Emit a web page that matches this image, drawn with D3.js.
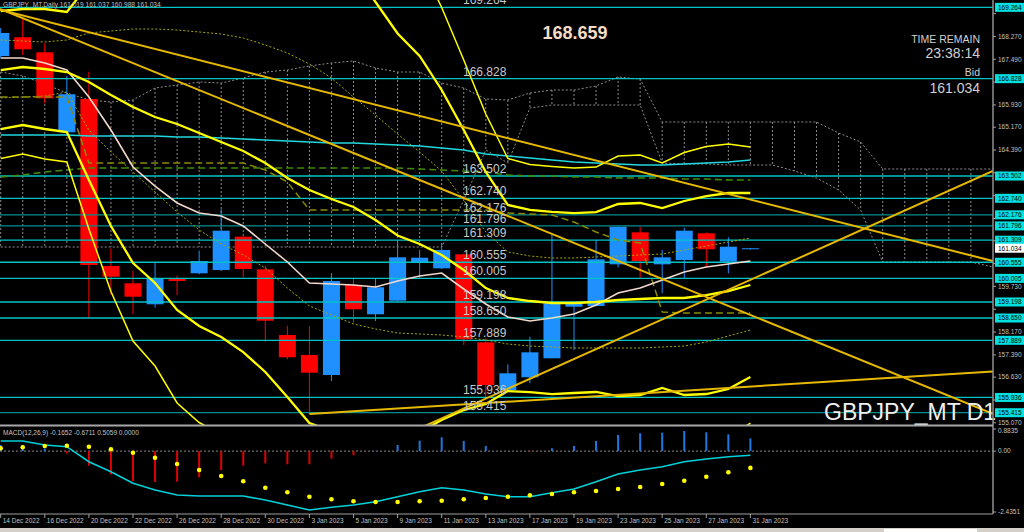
<!DOCTYPE html>
<html><head><meta charset="utf-8">
<script src="https://cdn.jsdelivr.net/npm/d3@7"></script>
<style>html,body{margin:0;padding:0;background:#000;overflow:hidden}svg{display:block;font-family:"Liberation Sans",Arial,sans-serif}</style>
</head><body>
<svg id="c" width="1024" height="532"></svg>
<script>
// ---------- DATA ----------
const dates = ["14 Dec 2022","15 Dec 2022","16 Dec 2022","19 Dec 2022","20 Dec 2022","21 Dec 2022","22 Dec 2022","23 Dec 2022","26 Dec 2022","27 Dec 2022","28 Dec 2022","29 Dec 2022","30 Dec 2022","2 Jan 2023","3 Jan 2023","4 Jan 2023","5 Jan 2023","6 Jan 2023","9 Jan 2023","10 Jan 2023","11 Jan 2023","12 Jan 2023","13 Jan 2023","16 Jan 2023","17 Jan 2023","18 Jan 2023","19 Jan 2023","20 Jan 2023","23 Jan 2023","24 Jan 2023","25 Jan 2023","26 Jan 2023","27 Jan 2023","30 Jan 2023","31 Jan 2023"];
const open  = [167.602,168.241,167.728,164.995,166.133,160.427,159.836,159.119,159.983,160.178,160.290,161.428,160.314,158.070,157.387,156.703,159.778,158.777,159.242,160.554,160.348,160.827,157.820,156.191,156.625,157.274,159.037,159.060,160.485,161.578,160.485,160.632,161.544,160.574,161.019];
const high  = [168.558,168.890,168.036,166.918,167.065,161.032,160.266,160.554,160.096,160.950,162.364,161.486,160.427,158.388,158.370,160.178,160.028,160.007,161.257,160.974,161.202,160.854,157.957,157.069,158.012,161.486,159.163,161.316,161.794,161.770,160.974,161.736,161.572,161.408,161.037];
const low   = [167.533,167.636,165.986,164.971,158.650,159.436,158.787,159.002,159.436,160.144,160.256,160.041,157.841,157.239,155.371,156.498,158.490,158.548,159.214,160.007,160.325,157.728,155.907,156.122,156.420,157.274,157.557,159.043,160.383,160.007,159.494,160.007,160.383,160.178,160.988];
const close = [168.388,167.831,166.157,166.293,160.461,160.062,159.378,160.007,159.915,160.598,161.633,160.325,158.558,157.308,156.782,159.915,158.948,159.700,160.724,160.711,160.974,157.923,156.361,156.761,157.479,159.153,159.153,160.656,161.770,160.598,160.724,161.633,160.998,161.087,161.034];

const maFast = [167.533,167.533,167.363,167.123,166.201,165.074,163.809,163.160,162.580,162.238,162.135,161.794,161.179,160.564,159.846,159.812,159.778,159.710,159.915,160.085,160.188,159.641,159.129,158.685,158.548,158.651,158.787,159.095,159.505,159.676,159.949,160.222,160.393,160.495,160.598];
const maSlow = [164.903,164.903,164.903,164.903,164.869,164.869,164.869,164.869,164.835,164.835,164.800,164.766,164.732,164.698,164.664,164.629,164.629,164.595,164.561,164.527,164.459,164.390,164.254,164.185,164.117,164.049,163.981,163.946,163.912,163.878,163.878,163.912,163.946,163.981,164.049];

const bbMid = [167.123,167.226,167.158,167.055,166.713,166.269,165.859,165.518,165.279,164.971,164.664,164.356,163.946,163.434,163.024,162.716,162.443,161.999,161.469,161.179,160.803,160.290,159.675,159.334,159.231,159.163,159.163,159.197,159.265,159.300,159.334,159.334,159.436,159.573,159.778];
const bbDev = [1.008,0.991,1.025,1.025,1.674,2.238,2.665,2.836,3.177,3.297,3.331,3.434,3.570,3.741,3.980,3.963,3.997,3.724,3.451,3.212,2.819,2.392,1.982,1.589,1.555,1.555,1.537,1.537,1.640,1.640,1.537,1.657,1.691,1.674,1.572];

const dotUpper = [168.148,168.114,168.080,168.148,168.388,168.456,168.524,168.524,168.490,168.422,168.353,168.217,167.978,167.704,167.328,166.850,166.201,165.586,164.937,164.322,163.673,162.682,161.589,160.906,160.769,160.700,160.700,160.735,160.769,160.803,160.837,160.974,161.110,161.247,161.384];
const dotLower = [166.167,166.201,166.235,166.372,165.074,164.322,163.639,162.955,162.272,161.657,161.179,160.803,160.359,159.676,159.061,158.753,158.446,158.275,158.138,158.104,158.070,158.001,157.899,157.762,157.694,157.660,157.626,157.626,157.626,157.626,157.660,157.694,157.831,158.036,158.241];

const kijun = [166.201,166.201,166.201,166.201,163.946,163.946,163.946,163.946,163.946,163.946,163.946,163.946,163.706,163.297,162.340,162.340,162.340,162.340,162.340,162.340,162.340,162.340,162.340,162.238,162.204,162.170,161.930,161.589,161.316,161.213,158.856,158.821,158.821,158.821,158.821];
const greenLine = [163.468,163.536,163.639,163.707,163.775,163.775,163.775,163.775,163.775,163.775,163.775,163.775,163.775,163.775,163.775,163.775,163.775,163.775,163.775,163.741,163.707,163.673,163.639,163.536,163.502,163.502,163.468,163.468,163.434,163.434,163.434,163.400,163.400,163.365,163.365];

const cloudUpper = [167.055,166.918,166.645,166.338,166.099,166.030,166.099,166.508,166.611,166.713,166.679,166.850,167.055,167.123,167.260,167.363,167.431,167.192,167.055,167.055,166.679,166.508,166.133,166.099,166.338,166.440,166.440,166.577,166.884,166.816,165.347,165.347,165.347,165.347,165.347,165.347,165.347,165.347,164.971,164.664,163.741,163.741,163.741,163.741,163.741,163.741];
const cloudLower = [161.076,161.076,161.076,161.076,161.076,161.076,161.076,161.076,161.076,161.076,161.076,161.076,161.076,161.076,161.076,161.076,161.076,161.076,161.076,161.076,161.076,162.682,164.390,163.946,165.825,165.928,165.928,165.928,165.928,165.928,163.946,163.912,163.912,163.878,163.878,163.878,163.673,163.434,163.024,162.340,160.564,160.564,160.564,160.564,160.564,160.393];

const levels = [169.264,166.828,163.502,162.740,162.176,161.796,161.309,160.555,160.005,159.198,158.650,157.889,155.936,155.415];
const darkLevels = [162.176,161.796,155.415];
const bidPrice = 161.034;
const priceTicks = [169.050,168.270,167.490,166.710,165.930,165.170,164.390,163.610,162.830,162.050,161.290,160.510,159.730,158.950,158.170,157.390,156.630,155.850,155.070];

// trend lines: two anchor points [bar index, price]
const trend1 = [[0,169.173],[45,160.598]];
const trend2 = [[1,168.897],[35,158.449]];
const trend3 = [[20,155.221],[45,163.673]];
const trend4 = [[14,155.371],[45,156.823]];

const macdMain = [0.404,0.404,0.244,0.176,-0.424,-0.824,-1.288,-1.556,-1.756,-1.796,-1.796,-1.796,-1.956,-2.156,-2.356,-2.248,-2.156,-2.024,-1.824,-1.624,-1.464,-1.556,-1.716,-1.824,-1.824,-1.664,-1.516,-1.224,-0.916,-0.756,-0.624,-0.424,-0.316,-0.224,-0.1652];
const macdSignal = [0.112,0.152,0.204,0.216,0.176,0.072,-0.064,-0.264,-0.516,-0.756,-0.996,-1.208,-1.464,-1.648,-1.824,-1.928,-2.008,-2.036,-2.036,-2.008,-1.984,-1.928,-1.876,-1.824,-1.768,-1.716,-1.648,-1.596,-1.516,-1.436,-1.316,-1.184,-1.024,-0.848,-0.6711];
const macdHist = [0.24,0.25,0.10,-0.10,-0.584,-0.928,-1.196,-1.236,-1.224,-1.048,-0.756,-0.584,-0.488,-0.528,-0.528,-0.304,-0.168,0.012,0.244,0.416,0.552,0.404,0.204,0.0,-0.03,0.112,0.204,0.404,0.644,0.712,0.736,0.804,0.752,0.672,0.5059];
const macdTicks = [0.8835,0.00,-2.4351];
const macdTickLabels = ["0.8835","0.00","-2.4351"];

// ---------- DRAW ----------
const svg = d3.select("#c");
svg.append("rect").attr("width",1024).attr("height",532).attr("fill","#000");
const AX = 993;
const xs = d3.scaleLinear().domain([0,45]).range([0.7,992.95]);
const ym = d3.scaleLinear().domain([169.515,154.961]).range([0,426]);
const yd = d3.scaleLinear().domain([0.8835,-2.4351]).range([429,512]);

const defs = svg.append("defs");
defs.append("clipPath").attr("id","cm").append("rect").attr("x",0).attr("y",0).attr("width",AX).attr("height",425);
defs.append("clipPath").attr("id","cd").append("rect").attr("x",0).attr("y",427).attr("width",AX).attr("height",86);

const main = svg.append("g").attr("clip-path","url(#cm)");
const idx = d3.range(dates.length);

// Ichimoku cloud hatch
const cidx = d3.range(cloudUpper.length);
main.append("g").selectAll("line").data(cidx.slice(0,45)).join("line")
  .attr("x1",k=>xs(k)).attr("x2",k=>xs(k))
  .attr("y1",k=>ym(cloudUpper[k])).attr("y2",k=>ym(cloudLower[k]))
  .attr("stroke","#8c8c8c").attr("stroke-width",1).attr("stroke-dasharray","2,2");
const cl = d3.line().x((d,i)=>xs(i)).y(d=>ym(d));
[cloudUpper,cloudLower].forEach(arr=>{
  main.append("path").attr("d",cl(arr)).attr("fill","none").attr("stroke","#8c8c8c").attr("stroke-width",1).attr("stroke-dasharray","2,2");
});

// candles
const cg = main.append("g");
idx.forEach(i=>{
  const bull = close[i] >= open[i];
  const col = bull ? "#1e90ff" : "#ff0000";
  cg.append("line").attr("x1",xs(i)).attr("x2",xs(i)).attr("y1",ym(high[i])).attr("y2",ym(low[i])).attr("stroke",col).attr("stroke-width",1);
  const yt = ym(Math.max(open[i],close[i])), yb = ym(Math.min(open[i],close[i]));
  cg.append("rect").attr("x",xs(i)-8.5).attr("width",17).attr("y",yt).attr("height",Math.max(1,yb-yt)).attr("fill",col);
});

// horizontal levels
main.append("g").selectAll("line").data(levels).join("line")
  .attr("x1",0).attr("x2",AX).attr("y1",d=>ym(d)).attr("y2",d=>ym(d))
  .attr("stroke",d=>darkLevels.includes(d)?"#008c8c":"#00c4c4").attr("stroke-width",1.3);

const line = d3.line().x((d,i)=>xs(i)).y(d=>ym(d));
// dotted olive bands
[dotUpper,dotLower].forEach(arr=>{
  main.append("path").attr("d",line(arr)).attr("fill","none").attr("stroke","#a8a800").attr("stroke-width",1).attr("stroke-dasharray","2,2");
});
// dashed lines
main.append("path").attr("d",line(greenLine)).attr("fill","none").attr("stroke","#3f8a0a").attr("stroke-width",1.6).attr("stroke-dasharray","7,4");
main.append("path").attr("d",line(kijun)).attr("fill","none").attr("stroke","#8a8a00").attr("stroke-width",1.5).attr("stroke-dasharray","7,4");
// moving averages
main.append("path").attr("d",line(maSlow)).attr("fill","none").attr("stroke","#20d8e0").attr("stroke-width",1.6);
main.append("path").attr("d",line(maFast)).attr("fill","none").attr("stroke","#f2d8cc").attr("stroke-width",1.6);
// bollinger style bands
const band = n => bbMid.map((m,i)=>m + n*bbDev[i]);
[[3,1.5],[-3,1.5],[2,2.3],[-2,2.3],[0,2.3]].forEach(([n,w])=>{
  main.append("path").attr("d",line(band(n))).attr("fill","none").attr("stroke","#ffff00").attr("stroke-width",w);
});
// trend lines
const tl = (a,b,k0,k1)=>{const s=(b[1]-a[1])/(b[0]-a[0]);return [[k0,a[1]+s*(k0-a[0])],[k1,a[1]+s*(k1-a[0])]];};
const tline = d3.line().x(d=>xs(d[0])).y(d=>ym(d[1]));
const k0 = xs.invert(0);
[tl(trend1[0],trend1[1],k0,45),tl(trend2[0],trend2[1],k0,45),tl(trend3[0],trend3[1],17,45),tl(trend4[0],trend4[1],14,45)].forEach(p=>{
  main.append("path").attr("d",tline(p)).attr("fill","none").attr("stroke","#e6b800").attr("stroke-width",2);
});

// level labels
main.append("g").selectAll("text").data(levels).join("text")
  .attr("x",463).attr("y",d=>ym(d)-3).attr("fill","#c8c8c8").attr("font-size",12).text(d=>d.toFixed(3));

// header & texts
svg.append("text").attr("x",3).attr("y",7).attr("fill","#c0c0c0").attr("font-size",6.6)
  .text("GBPJPY_MT,Daily  " + [open[34],high[34],low[34],close[34]].map(v=>v.toFixed(3)).join(" "));
svg.append("text").attr("x",575).attr("y",39).attr("text-anchor","middle").attr("fill","#f6dcc4").attr("font-size",18).attr("font-weight","bold").text("168.659");
const rt = [["TIME REMAIN",43,10.5],["23:38:14",58,14],["Bid",76,10.5],[bidPrice.toFixed(3),93,14]];
rt.forEach(([t,y,f])=>svg.append("text").attr("x",980).attr("y",y).attr("text-anchor","end").attr("fill","#d0d0d0").attr("font-size",f).text(t));
svg.append("text").attr("x",824).attr("y",420).attr("fill","#f0f0f0").attr("font-size",23).text("GBPJPY_MT D1");

// right axis
svg.append("line").attr("x1",AX).attr("x2",AX).attr("y1",0).attr("y2",514).attr("stroke","#909090").attr("stroke-width",1.5);
const ax = svg.append("g");
const boxed = levels.concat([bidPrice]);
priceTicks.forEach(p=>{
  ax.append("line").attr("x1",AX).attr("x2",AX+3).attr("y1",ym(p)).attr("y2",ym(p)).attr("stroke","#a0a0a0");
  const hidden = boxed.some(b=>Math.abs(ym(b)-ym(p))<7.5);
  if(!hidden) ax.append("text").attr("x",998).attr("y",ym(p)).attr("dy","0.35em").attr("fill","#c0c0c0").attr("font-size",6.5).text(p.toFixed(3));
});
levels.forEach(p=>{
  ax.append("rect").attr("x",995).attr("y",ym(p)-4.5).attr("width",29).attr("height",9).attr("fill","#00e0e0");
  ax.append("text").attr("x",998).attr("y",ym(p)).attr("dy","0.35em").attr("fill","#000").attr("font-size",6.5).text(p.toFixed(3));
});
ax.append("rect").attr("x",995).attr("y",ym(bidPrice)-4.5).attr("width",29).attr("height",9).attr("fill","#ffffff");
ax.append("text").attr("x",998).attr("y",ym(bidPrice)).attr("dy","0.35em").attr("fill","#000").attr("font-size",6.5).text(bidPrice.toFixed(3));

// separators
svg.append("line").attr("x1",0).attr("x2",AX).attr("y1",425.5).attr("y2",425.5).attr("stroke","#a8a8a8").attr("stroke-width",2);
svg.append("line").attr("x1",0).attr("x2",AX).attr("y1",514).attr("y2",514).attr("stroke","#a0a0a0").attr("stroke-width",1.2);

// MACD panel
const md = svg.append("g").attr("clip-path","url(#cd)");
md.append("line").attr("x1",0).attr("x2",AX).attr("y1",yd(0)).attr("y2",yd(0)).attr("stroke","#8a8a8a").attr("stroke-dasharray","2,2");
md.append("g").selectAll("line").data(idx).join("line")
  .attr("x1",i=>xs(i)).attr("x2",i=>xs(i)).attr("y1",yd(0)).attr("y2",i=>yd(macdHist[i]))
  .attr("stroke",i=>macdHist[i]>=0?"#1e78e0":"#e00000").attr("stroke-width",2);
md.append("path").attr("d",d3.line().x((d,i)=>xs(i)).y(d=>yd(d))(macdMain)).attr("fill","none").attr("stroke","#00d0d8").attr("stroke-width",1.6);
md.append("g").selectAll("circle").data(idx).join("circle")
  .attr("cx",i=>xs(i)).attr("cy",i=>yd(macdSignal[i])).attr("r",2.3).attr("fill","#ffff00");
svg.append("text").attr("x",3).attr("y",435).attr("fill","#c0c0c0").attr("font-size",6.5)
  .text("MACD(12,26,9) " + [macdMain[34].toFixed(4),macdSignal[34].toFixed(4),macdHist[34].toFixed(4),"0.0000"].join(" "));
macdTicks.forEach((v,i)=>{
  svg.append("line").attr("x1",AX).attr("x2",AX+3).attr("y1",yd(v)).attr("y2",yd(v)).attr("stroke","#a0a0a0");
  svg.append("text").attr("x",998).attr("y",yd(v)+(i===0?2:0)).attr("dy","0.35em").attr("fill","#c0c0c0").attr("font-size",6.5).text(macdTickLabels[i]);
});

// date axis
idx.filter(i=>i%2===0).forEach(i=>{
  svg.append("line").attr("x1",xs(i)).attr("x2",xs(i)).attr("y1",514).attr("y2",518).attr("stroke","#a0a0a0");
  svg.append("text").attr("x",xs(i)+2).attr("y",523).attr("fill","#c0c0c0").attr("font-size",6.5).text(dates[i]);
});
// window strip
svg.append("rect").attr("x",0).attr("y",528).attr("width",1024).attr("height",4).attr("fill","#d4d0c8");
svg.append("rect").attr("x",884).attr("y",529).attr("width",93).attr("height",3).attr("fill","#ffffff");
</script>
</body></html>
